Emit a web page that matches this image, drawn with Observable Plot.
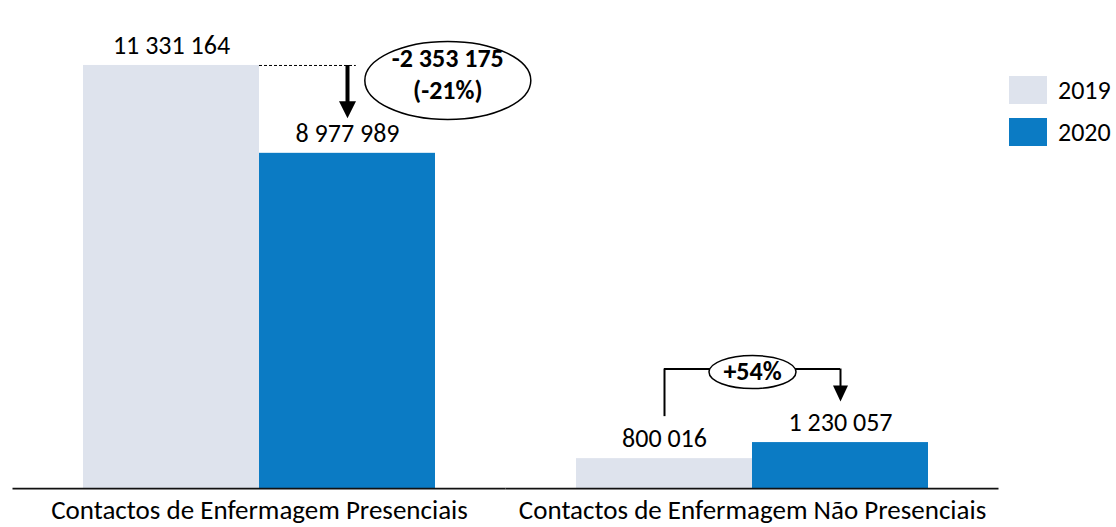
<!DOCTYPE html>
<html>
<head>
<meta charset="utf-8">
<script src="https://cdn.jsdelivr.net/npm/d3@7"></script>
<script src="https://cdn.jsdelivr.net/npm/@observablehq/plot@0.6"></script>
<style>
  html, body { margin: 0; padding: 0; background: #fff; overflow: hidden; }
  #wrap { position: relative; width: 1116px; height: 527px; font-family: Carlito, Calibri, Lato, sans-serif; }
  #legend { position: absolute; left: 1009px; top: 76px; }
  .row { display: flex; align-items: center; height: 28px; margin-bottom: 14px; }
  .sw { width: 38px; height: 28px; margin-right: 11px; }
  .lab { font-size: 26px; color: #000; line-height: 28px; }
</style>
</head>
<body>
<div id="wrap"></div>
<script>
// ---- data ----
const groups = ["Contactos de Enfermagem Presenciais", "Contactos de Enfermagem Não Presenciais"];
const years = ["2019", "2020"];
const values2019 = [11331164, 800016];
const values2020 = [8977989, 1230057];
const colors = ["#dee3ed", "#0b7bc4"];

// ---- helpers ----
const loc = d3.formatLocale({decimal: ",", thousands: " ", grouping: [3], currency: ["", " €"], minus: "-", percent: "%"});
const fmtNum = loc.format(",");
const fmtPct = loc.format(".0%");
const fmtPctSigned = loc.format("+.0%");

const data = groups.flatMap((g, gi) => [
  {group: g, year: years[0], i: 0, value: values2019[gi]},
  {group: g, year: years[1], i: 1, value: values2020[gi]}
]);

// annotation 1: decrease in first group
const a1 = {
  group: groups[0],
  from: values2019[0],
  to: values2020[0],
  diffText: fmtNum(values2020[0] - values2019[0]),
  pctText: "(" + fmtPct(values2020[0] / values2019[0] - 1) + ")"
};
// annotation 2: increase in second group
const bracketLevel = 3200000;
const a2 = {
  group: groups[1],
  from: values2019[1],
  to: values2020[1],
  level: bracketLevel,
  pctText: fmtPctSigned(values2020[1] / values2019[1] - 1)
};

function ellipseSymbol(rx, ry) {
  const k = 0.5522847;
  return {
    draw(ctx) {
      ctx.moveTo(rx, 0);
      ctx.bezierCurveTo(rx, k * ry, k * rx, ry, 0, ry);
      ctx.bezierCurveTo(-k * rx, ry, -rx, k * ry, -rx, 0);
      ctx.bezierCurveTo(-rx, -k * ry, -k * rx, -ry, 0, -ry);
      ctx.bezierCurveTo(k * rx, -ry, rx, -k * ry, rx, 0);
      ctx.closePath();
    }
  };
}
function downTriangle(w, h) {
  return {
    draw(ctx) {
      ctx.moveTo(-w / 2, -h / 2);
      ctx.lineTo(w / 2, -h / 2);
      ctx.lineTo(0, h / 2);
      ctx.closePath();
    }
  };
}

const FONT = 26;

const chart = Plot.plot({
  width: 1116,
  height: 527,
  marginTop: 40,
  marginBottom: 39,
  marginLeft: 13,
  marginRight: 117,
  style: {fontFamily: 'Carlito, Calibri, Lato, sans-serif', color: "#000", background: "transparent"},
  fx: {domain: groups, paddingInner: 0.286, paddingOuter: 0.143, label: null},
  x: {domain: [0, 2], axis: null},
  y: {domain: [0, 12000000], axis: null},
  color: {domain: years, range: colors},
  marks: [
    Plot.rectY(data, {fx: "group", x1: d => d.i, x2: d => d.i + 1, y: "value", fill: "year"}),
    Plot.ruleY([0], {stroke: "#111", strokeWidth: 1.75, insetLeft: -70.5, insetRight: -70.5}),
    Plot.text(data, {fx: "group", x: d => d.i + 0.5, y: "value", text: d => fmtNum(d.value), dy: -20, fontSize: FONT, fill: "#000"}),
    Plot.axisFx({anchor: "bottom", tickSize: 0, tickPadding: 11, fontSize: 27, label: null}),

    // annotation 1
    Plot.ruleY([a1], {fx: "group", y: "from", x1: () => 1, x2: () => 1.55, stroke: "#000", strokeWidth: 1, strokeDasharray: "3,2"}),
    Plot.ruleX([a1], {fx: "group", x: () => 1.5, y1: "from", y2: "to", stroke: "#000", strokeWidth: 4, insetBottom: 50}),
    Plot.dot([a1], {fx: "group", x: () => 1.5, y: "to", dy: -43.5, symbol: downTriangle(17, 17), fill: "#000", stroke: "none"}),
    Plot.dot([a1], {fx: "group", x: () => 2.07, y: "from", dy: 15, symbol: ellipseSymbol(83, 39), fill: "#fff", stroke: "#000", strokeWidth: 1.5}),
    Plot.text([a1], {fx: "group", x: () => 2.07, y: "from", dy: -7, text: "diffText", fontSize: FONT, fontWeight: "bold", fill: "#000"}),
    Plot.text([a1], {fx: "group", x: () => 2.07, y: "from", dy: 25, text: "pctText", fontSize: FONT, fontWeight: "bold", fill: "#000"}),

    // annotation 2
    Plot.ruleX([a2], {fx: "group", x: () => 0.5, y1: "level", y2: "from", stroke: "#000", strokeWidth: 2, insetBottom: 42}),
    Plot.ruleY([a2], {fx: "group", y: "level", x1: () => 0.5, x2: () => 1.5, stroke: "#000", strokeWidth: 2}),
    Plot.ruleX([a2], {fx: "group", x: () => 1.5, y1: "level", y2: "to", stroke: "#000", strokeWidth: 2, insetBottom: 56}),
    Plot.dot([a2], {fx: "group", x: () => 1.5, y: "to", dy: -49, symbol: downTriangle(15, 16), fill: "#000", stroke: "none"}),
    Plot.dot([a2], {fx: "group", x: () => 1.0, y: "level", dy: 3, symbol: ellipseSymbol(43.5, 16.5), fill: "#fff", stroke: "#000", strokeWidth: 1.5}),
    Plot.text([a2], {fx: "group", x: () => 1.0, y: "level", dy: 3, text: "pctText", fontSize: FONT, fontWeight: "bold", fill: "#000"})
  ]
});

const wrap = document.getElementById("wrap");
wrap.appendChild(chart);

const legend = document.createElement("div");
legend.id = "legend";
years.forEach((y, i) => {
  const row = document.createElement("div");
  row.className = "row";
  const sw = document.createElement("div");
  sw.className = "sw";
  sw.style.background = colors[i];
  const lab = document.createElement("span");
  lab.className = "lab";
  lab.textContent = y;
  row.appendChild(sw);
  row.appendChild(lab);
  legend.appendChild(row);
});
wrap.appendChild(legend);
</script>
</body>
</html>
